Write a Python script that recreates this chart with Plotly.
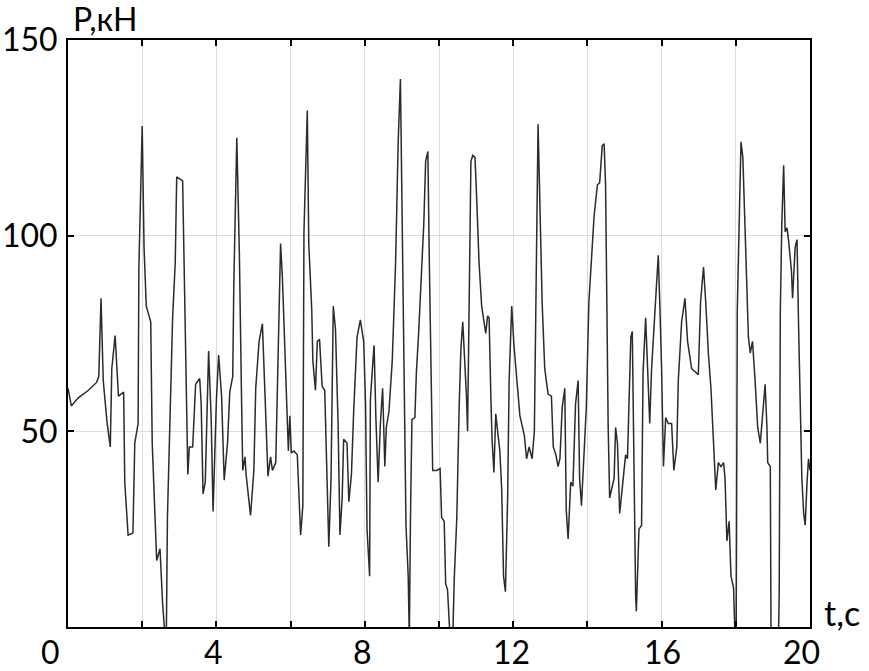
import plotly.graph_objects as go

# time, s
time_s = [
    0.00, 0.09, 0.27, 0.55, 0.77, 0.83, 0.89, 0.95, 1.05, 1.14, 1.18, 1.27, 1.36, 1.50, 1.53, 1.62, 1.75, 1.80, 1.89, 1.91,
    2.00, 2.05, 2.11, 2.23, 2.27, 2.39, 2.48, 2.55, 2.62, 2.65, 2.68, 2.82, 2.89, 2.93, 3.09, 3.14, 3.23, 3.27, 3.36, 3.44,
    3.55, 3.59, 3.64, 3.70, 3.79, 3.86, 3.91, 4.00, 4.06, 4.14, 4.21, 4.30, 4.36, 4.44, 4.47, 4.55, 4.62, 4.68, 4.71, 4.77,
    4.80, 4.92, 5.01, 5.06, 5.15, 5.24, 5.28, 5.35, 5.39, 5.46, 5.51, 5.60, 5.66, 5.73, 5.78, 5.84, 5.89, 5.94, 5.98, 6.02,
    6.09, 6.18, 6.22, 6.27, 6.33, 6.36, 6.45, 6.49, 6.57, 6.60, 6.67, 6.72, 6.78, 6.85, 6.92, 6.96, 7.03, 7.09, 7.15, 7.21,
    7.28, 7.33, 7.39, 7.43, 7.52, 7.57, 7.64, 7.70, 7.79, 7.88, 7.97, 8.02, 8.06, 8.13, 8.15, 8.22, 8.25, 8.30, 8.36, 8.42,
    8.48, 8.54, 8.58, 8.65, 8.74, 8.83, 8.90, 8.96, 9.00, 9.07, 9.11, 9.17, 9.20, 9.23, 9.27, 9.35, 9.39, 9.45, 9.52, 9.59,
    9.64, 9.70, 9.74, 9.78, 9.83, 9.94, 10.03, 10.07, 10.14, 10.18, 10.23, 10.30, 10.37, 10.41, 10.48, 10.54, 10.59, 10.64, 10.68, 10.74,
    10.77, 10.81, 10.86, 10.91, 10.97, 11.01, 11.08, 11.15, 11.22, 11.26, 11.31, 11.35, 11.40, 11.43, 11.48, 11.53, 11.58, 11.64, 11.69, 11.74,
    11.79, 11.85, 11.89, 11.96, 12.02, 12.09, 12.18, 12.30, 12.36, 12.43, 12.51, 12.57, 12.60, 12.63, 12.67, 12.72, 12.78, 12.85, 12.94, 13.03,
    13.08, 13.15, 13.21, 13.26, 13.32, 13.39, 13.43, 13.48, 13.55, 13.61, 13.68, 13.75, 13.79, 13.84, 13.90, 13.97, 14.04, 14.11, 14.18, 14.27,
    14.33, 14.40, 14.45, 14.49, 14.53, 14.56, 14.60, 14.67, 14.72, 14.76, 14.81, 14.87, 14.96, 15.03, 15.08, 15.12, 15.17, 15.21, 15.25, 15.30,
    15.32, 15.39, 15.46, 15.50, 15.57, 15.62, 15.68, 15.73, 15.79, 15.86, 15.91, 15.95, 16.00, 16.05, 16.11, 16.18, 16.27, 16.33, 16.41, 16.45,
    16.54, 16.63, 16.70, 16.81, 16.99, 17.05, 17.13, 17.19, 17.26, 17.33, 17.40, 17.46, 17.53, 17.60, 17.67, 17.71, 17.76, 17.82, 17.87, 17.94,
    17.98, 18.01, 18.04, 18.09, 18.14, 18.19, 18.25, 18.30, 18.34, 18.39, 18.45, 18.52, 18.59, 18.66, 18.72, 18.79, 18.84, 18.86, 18.93, 18.95,
    19.15, 19.17, 19.20, 19.24, 19.29, 19.33, 19.38, 19.42, 19.50, 19.53, 19.60, 19.65, 19.69, 19.74, 19.78, 19.83, 19.87, 19.92, 19.96, 20.00,
]

# force, kN
force_kN = [
    61, 56.5, 58.5, 60.5, 62.5, 64, 84, 63, 52.5, 46, 66, 74.5, 59, 60, 37, 23.5, 24, 47, 52, 91.5,
    128, 97, 82, 78, 47, 17, 20, 6, -3, -3, 28, 79, 93, 115, 114, 85, 39, 46, 46, 62,
    63.5, 57, 34, 37, 70.5, 53, 29.5, 58, 69.5, 59, 37.5, 47, 60, 64, 88, 125, 95, 57, 40, 43.5,
    39, 28.5, 40, 61, 73, 77.5, 68, 47, 38.5, 43.5, 40, 42, 70, 98, 89, 71, 54.5, 45, 54, 44.5,
    45, 44, 35, 23.5, 31, 101, 132, 98, 81, 68, 60.5, 73, 73.5, 61.5, 60.5, 43, 20.5, 38, 82, 76,
    52, 23.5, 33, 48, 47, 32, 39, 55, 74, 78.5, 73, 57, 25, 13, 58, 68, 72, 53, 37, 52,
    61, 41, 51, 55, 68, 93, 124, 140, 113, 64, 26, 13, -3, 27, 53, 53.5, 65, 75, 90, 103,
    119, 121.5, 93, 73, 40, 40, 40.5, 28, 27, 11, 9.5, -3, -3, 12, 28, 55, 71, 78, 71, 59,
    50, 79, 119, 120.5, 120, 111, 93, 82, 78, 75, 79.5, 79, 58, 48, 39.5, 54.5, 50, 45, 35, 13,
    9, 33, 63, 82, 72, 63, 54, 49, 43, 46, 43, 50, 74, 110, 128.5, 108, 83, 66, 59.5, 59,
    46, 44, 41, 43, 56, 61, 30, 22.5, 37, 36, 57, 63, 38, 31, 44, 56, 83, 95, 105, 113,
    113.5, 123, 123.5, 113, 68, 51, 33, 36, 38, 51, 47, 29, 38, 44, 43, 58, 74, 75.5, 38, 8,
    4, 25, 26, 65, 79, 65, 52, 66, 76, 85, 95, 83, 66, 41, 53.5, 52, 52, 40, 46, 63,
    78, 84, 73, 66, 64.5, 83, 92, 83, 70, 61, 48, 35, 42, 41, 42, 38, 22, 27, 13, 10,
    -3, -3, 81, 108, 124, 120, 103, 88, 74, 70, 73, 63, 51, 47, 55, 62, 51, 42, 41, -3,
    -3, 9, 81, 103, 118, 101, 102, 99, 91, 84, 97, 99, 78, 58, 38, 29, 26, 37, 43, 40,
]

x_tick_vals = [0, 2, 4, 6, 8, 10, 12, 14, 16, 18, 20]
# x labels (value, text, small horizontal nudge as in the original)
x_labels = [(0, "0", -18), (4, "4", -3), (8, "8", -2), (12, "12", -2), (16, "16", 1), (20, "20", -9)]
y_tick_vals = [50, 100, 150]
y_tick_text = ["50", "100", "150"]

FONT = "Lato, Open Sans, sans-serif"
FS = 32

fig = go.Figure()
fig.add_trace(go.Scatter(
    x=time_s, y=force_kN, mode="lines",
    line=dict(color="#2b2b2b", width=1.5),
    showlegend=False, hoverinfo="skip",
))

axis_common = dict(
    showline=True, linecolor="black", linewidth=2, mirror="ticks",
    ticks="inside", ticklen=6, tickwidth=1.5, tickcolor="black",
    showgrid=True, gridcolor="#dcdcdc", gridwidth=1, zeroline=False,
    tickfont=dict(family=FONT, size=FS, color="black"),
    automargin=False,
)

fig.update_xaxes(range=[0, 20], tickmode="array", tickvals=x_tick_vals,
                 ticktext=[""] * len(x_tick_vals), **axis_common)
fig.update_yaxes(range=[0, 150], tickmode="array", tickvals=y_tick_vals, ticktext=y_tick_text,
                 ticklabelstandoff=2, **axis_common)

for xv, txt, shift in x_labels:
    fig.add_annotation(text=txt, xref="x", yref="paper", x=xv, y=-0.042, xshift=shift,
                       xanchor="center", yanchor="middle", showarrow=False,
                       font=dict(family=FONT, size=FS, color="black"))

fig.add_annotation(text="P,кН", xref="paper", yref="paper", x=0.004, y=1.036,
                   xanchor="left", yanchor="middle", showarrow=False,
                   font=dict(family=FONT, size=FS, color="black"))
fig.add_annotation(text="t,c", xref="paper", yref="paper", x=1.016, y=0.024,
                   xanchor="left", yanchor="middle", showarrow=False,
                   font=dict(family=FONT, size=FS + 2, color="black"))

fig.update_layout(
    width=869, height=671,
    margin=dict(l=68, r=59, t=40, b=44, autoexpand=False),
    paper_bgcolor="white", plot_bgcolor="white",
)

fig.write_html("out.html", config={"displayModeBar": False},
               post_script="document.body.style.margin='0';")
